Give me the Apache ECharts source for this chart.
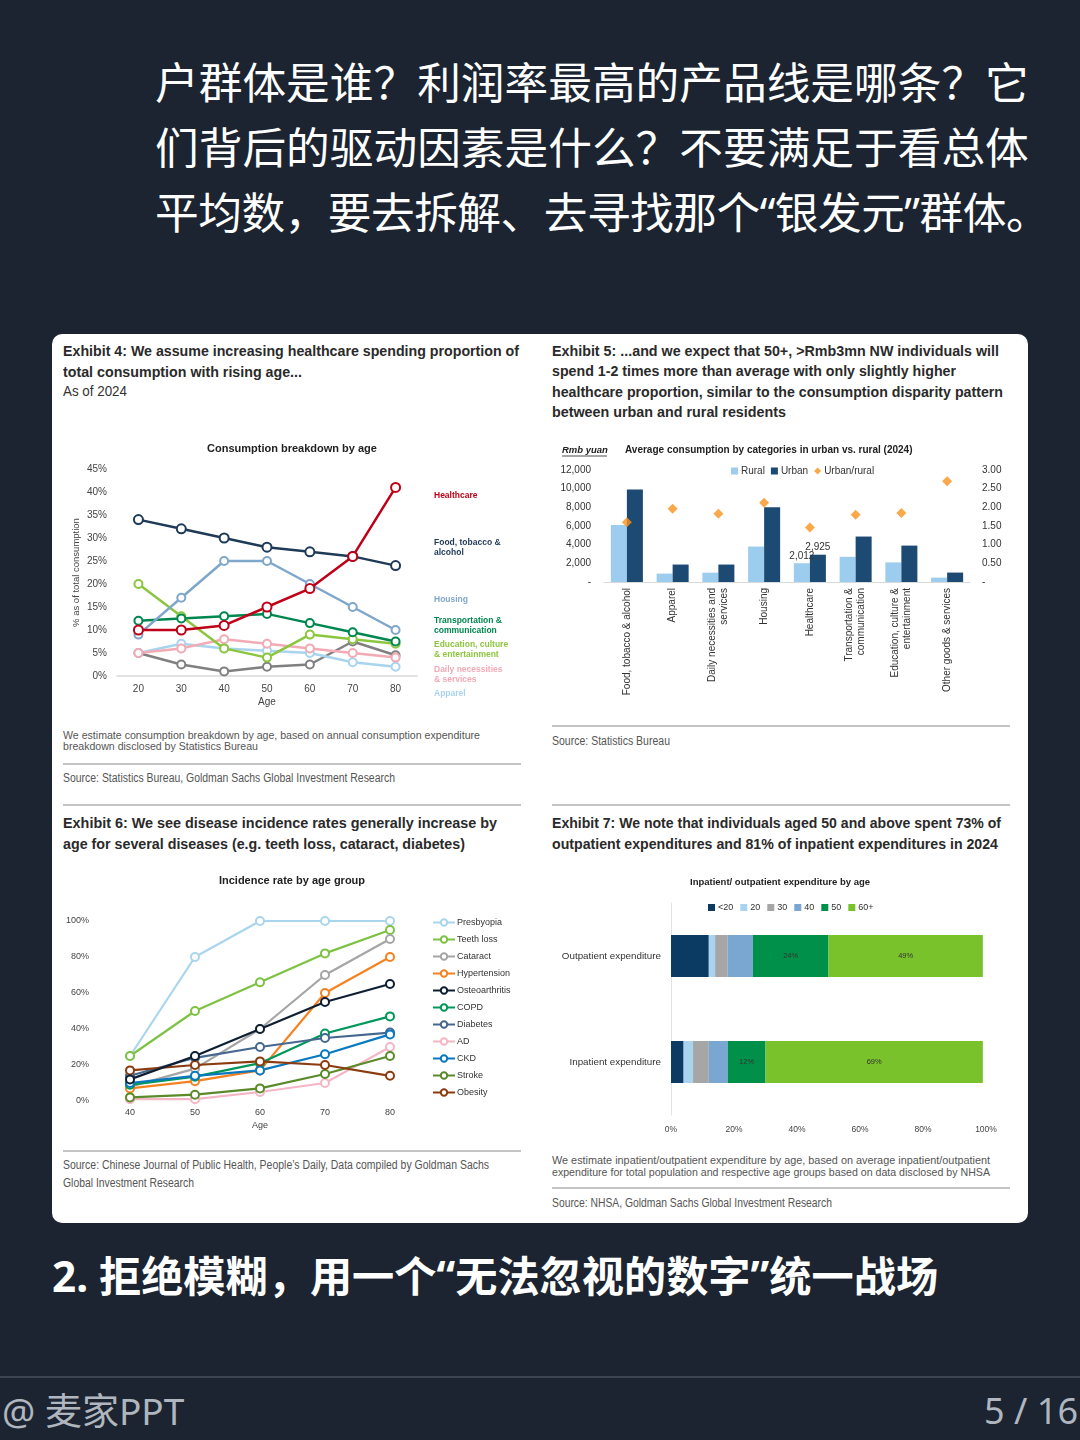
<!DOCTYPE html>
<html><head><meta charset="utf-8">
<script src="https://cdn.jsdelivr.net/npm/echarts@6/dist/echarts.min.js"></script>
<style>
html,body{margin:0;padding:0;background:#1b2430;}
#page{position:relative;width:1080px;height:1440px;background:#1b2430;overflow:hidden;font-family:"Liberation Sans",sans-serif;}
.abs{position:absolute;white-space:nowrap;}
.cn{font-family:"Noto Sans","Noto Sans CJK SC",sans-serif;color:#fff;}
.card{left:52px;top:334px;width:976px;height:889px;background:#fff;border-radius:10px;}
.hr{height:1.5px;background:#c4c4c4;}
.t{font-family:"Liberation Sans",Arial,sans-serif;font-weight:bold;font-size:15.5px;line-height:20px;color:#2a2a2a;}
.n{font-family:"Liberation Sans",Arial,sans-serif;font-size:11px;line-height:12px;color:#555;}
.s{font-family:"Liberation Sans",Arial,sans-serif;font-size:12.5px;line-height:16px;color:#555;}
#chart{position:absolute;left:0;top:0;width:1080px;height:1440px;}
</style></head>
<body>
<div id="page">
  <div class="abs cn" style="left:155px;top:49.5px;font-size:43.7px;line-height:65px;">户群体是谁？利润率最高的产品线是哪条？它</div>
  <div class="abs cn" style="left:155px;top:114.5px;font-size:43.7px;line-height:65px;">们背后的驱动因素是什么？不要满足于看总体</div>
  <div class="abs cn" style="left:155px;top:179.5px;font-size:43.7px;line-height:65px;letter-spacing:-0.5px;">平均数，要去拆解、去寻找那个“银发元”群体。</div>

  <div class="abs card"></div>

  <div class="abs fit t" data-w="456" style="left:63px;top:341px;">Exhibit 4: We assume increasing healthcare spending proportion of</div>
  <div class="abs fit t" data-w="239" style="left:63px;top:362px;">total consumption with rising age...</div>
  <div class="abs fit" data-w="64" style="left:63px;top:382px;font-size:14.5px;line-height:18px;color:#333;">As of 2024</div>

  <div class="abs fit t" data-w="447" style="left:552px;top:341px;">Exhibit 5: ...and we expect that 50+, &gt;Rmb3mn NW individuals will</div>
  <div class="abs fit t" data-w="404" style="left:552px;top:361px;">spend 1-2 times more than average with only slightly higher</div>
  <div class="abs fit t" data-w="451" style="left:552px;top:382px;">healthcare proportion, similar to the consumption disparity pattern</div>
  <div class="abs fit t" data-w="234" style="left:552px;top:402px;">between urban and rural residents</div>

  <div class="abs fit n" data-w="417" style="left:63px;top:729px;">We estimate consumption breakdown by age, based on annual consumption expenditure</div>
  <div class="abs fit n" data-w="195" style="left:63px;top:740px;">breakdown disclosed by Statistics Bureau</div>
  <div class="abs hr" style="left:63px;top:763px;width:458px;"></div>
  <div class="abs fit s" data-w="332" style="left:63px;top:770px;">Source: Statistics Bureau, Goldman Sachs Global Investment Research</div>

  <div class="abs hr" style="left:552px;top:725px;width:458px;"></div>
  <div class="abs fit s" data-w="118" style="left:552px;top:733px;">Source: Statistics Bureau</div>

  <div class="abs hr" style="left:63px;top:804px;width:458px;"></div>
  <div class="abs hr" style="left:552px;top:804px;width:458px;"></div>

  <div class="abs fit t" data-w="434" style="left:63px;top:813px;">Exhibit 6: We see disease incidence rates generally increase by</div>
  <div class="abs fit t" data-w="402" style="left:63px;top:834px;">age for several diseases (e.g. teeth loss, cataract, diabetes)</div>
  <div class="abs fit t" data-w="449" style="left:552px;top:813px;">Exhibit 7: We note that individuals aged 50 and above spent 73% of</div>
  <div class="abs fit t" data-w="446" style="left:552px;top:834px;">outpatient expenditures and 81% of inpatient expenditures in 2024</div>

  <div class="abs hr" style="left:63px;top:1150px;width:458px;"></div>
  <div class="abs fit s" data-w="426" style="left:63px;top:1157px;">Source: Chinese Journal of Public Health, People’s Daily, Data compiled by Goldman Sachs</div>
  <div class="abs fit s" data-w="131" style="left:63px;top:1175px;">Global Investment Research</div>

  <div class="abs fit n" data-w="438" style="left:552px;top:1154px;">We estimate inpatient/outpatient expenditure by age, based on average inpatient/outpatient</div>
  <div class="abs fit n" data-w="438" style="left:552px;top:1166px;">expenditure for total population and respective age groups based on data disclosed by NHSA</div>
  <div class="abs hr" style="left:552px;top:1187px;width:458px;"></div>
  <div class="abs fit s" data-w="280" style="left:552px;top:1195px;">Source: NHSA, Goldman Sachs Global Investment Research</div>

  <div class="abs cn" style="left:52px;top:1248px;font-size:42.2px;line-height:56px;font-weight:bold;">2. 拒绝模糊，用一个“无法忽视的数字”统一战场</div>

  <div class="abs" style="left:0;top:1376px;width:1080px;height:2px;background:#3a4452;"></div>
  <div class="abs cn" style="left:2px;top:1388px;font-size:37px;line-height:46px;color:#b0b6bf;">@ 麦家PPT</div>
  <div class="abs cn" style="right:2px;top:1388px;font-size:36px;line-height:46px;color:#b0b6bf;">5 / 16</div>

  <div id="chart"></div>
</div>
<script>
// ---- Exhibit 4 data ----
const ages1 = ['20','30','40','50','60','70','80'];
const food = [34,32,30,28,27,26,24];
const healthcare = [10,10,11,15,19,26,41];
const housing = [9,17,25,25,20,15,10];
const transport = [12,12.5,13,13.5,11.5,9.5,7.5];
const education = [20,13,6,4,9,8,7];
const dailyNec = [5,6,8,7,6,5,4];
const apparel = [5,7,6,5.5,5,3,2];
const otherGoods = [5,2.5,1,2,2.5,7.5,4.5];

// ---- Exhibit 5 data ----
const cats2 = ['Food, tobacco & alcohol','Apparel','Daily necessities and\nservices','Housing','Healthcare','Transportation &\ncommunication','Education, culture &\nentertainment','Other goods & services'];
const rural = [6100,900,1000,3800,2012,2700,2100,470];
const urban = [9900,1870,1870,8000,2925,4870,3900,1010];
const ratio = [1.60,1.96,1.83,2.12,1.46,1.80,1.85,2.70];

// ---- Exhibit 6 data ----
const ages3 = ['40','50','60','70','80'];
const diseases = ['Presbyopia','Teeth loss','Cataract','Hypertension','Osteoarthritis','COPD','Diabetes','AD','CKD','Stroke','Obesity'];
const presbyopia = [25,80,100,100,100];
const teethLoss = [25,50,66,82,95];
const cataract = [8,18,40,70,90];
const hypertension = [7,11,17,60,80];
const osteoarthritis = [12,25,40,55,65];
const copd = [9,13.5,21,37.5,47];
const diabetes = [14,24,30,35,38];
const adRate = [1,1,5,10,30];
const ckd = [10,14,17,26,37];
const stroke = [2,3.5,7,15,25];
const obesity = [17,20,22,20,14];

// ---- Exhibit 7 data ----
const ageGroups4 = ['<20','20','30','40','50','60+'];
const expCats = ['Outpatient expenditure','Inpatient expenditure'];
const outpatient = [12,2,4,8,24,49];
const inpatient = [4,3,5,6,12,69];

// fit condensed-looking text lines to their measured widths
document.querySelectorAll('.fit').forEach(el=>{
  const w = el.getBoundingClientRect().width;
  const t = +el.dataset.w;
  el.style.transformOrigin = '0 50%';
  el.style.transform = 'scaleX(' + (t / w) + ')';
});

const AR = '"Liberation Sans", Arial, sans-serif';
const chart = echarts.init(document.getElementById('chart'), null, {renderer:'canvas'});

function line1(name, data, color, z, size){
  return {name, type:'line', xAxisIndex:0, yAxisIndex:0, data, z,
    symbol:'emptyCircle', symbolSize:size||8, lineStyle:{color, width:2.5},
    itemStyle:{color, borderWidth:2.2}};
}
const c3colors = ['#a9d5ee','#7dc242','#a5a5a5','#f58220','#0f1f33','#00985a','#46688f','#f4b6c4','#0a78bf','#5a8a2a','#8a3c10'];
const c3data = [presbyopia,teethLoss,cataract,hypertension,osteoarthritis,copd,diabetes,adRate,ckd,stroke,obesity];
const c4colors = ['#0b3a63','#a9d4ef','#a6a6a6','#7aa6d2','#00904a','#79c22b'];

const txt = (text, x, y, font, fill, align) => ({type:'text', silent:true,
  style:{text, x, y, font, fill, textAlign:align||'left', textVerticalAlign:'middle'}});

const option = {
  backgroundColor:'transparent',
  animation:false,
  textStyle:{fontFamily:AR},
  grid:[
    {left:117, top:469, width:300, height:207},
    {left:604, top:470, width:366, height:112},
    {left:130, top:921, width:260, height:180},
    {left:671, top:903, width:315, height:212}
  ],
  xAxis:[
    {gridIndex:0, type:'category', data:ages1, boundaryGap:true,
      axisLine:{lineStyle:{color:'#d9d9d9', width:1.5}}, axisTick:{show:false},
      axisLabel:{color:'#444', fontSize:10, margin:8},
      name:'Age', nameLocation:'middle', nameGap:21, nameTextStyle:{color:'#444', fontSize:10}},
    {gridIndex:1, type:'category', data:cats2,
      axisLine:{lineStyle:{color:'#d9d9d9'}}, axisTick:{show:false},
      axisLabel:{color:'#333', fontSize:10, rotate:90, interval:0, margin:6, lineHeight:12}},
    {gridIndex:2, type:'category', data:ages3, boundaryGap:false,
      axisLine:{show:false}, axisTick:{show:false},
      axisLabel:{color:'#444', fontSize:9, margin:7},
      name:'Age', nameLocation:'middle', nameGap:20, nameTextStyle:{color:'#444', fontSize:9}},
    {gridIndex:3, type:'value', min:0, max:100, interval:20,
      axisLine:{show:false}, axisTick:{show:false}, splitLine:{show:false},
      axisLabel:{color:'#444', fontSize:8.5, margin:10, formatter:'{value}%'}}
  ],
  yAxis:[
    {gridIndex:0, type:'value', min:0, max:45, interval:5,
      axisLine:{show:false}, axisTick:{show:false}, splitLine:{show:false},
      axisLabel:{color:'#444', fontSize:10, margin:10, formatter:'{value}%'},
      name:'% as of total consumption', nameLocation:'middle', nameGap:36, nameRotate:90,
      nameTextStyle:{color:'#444', fontSize:9.5}},
    {gridIndex:1, type:'value', min:0, max:12000, interval:2000,
      axisLine:{show:false}, axisTick:{show:false}, splitLine:{show:false},
      axisLabel:{color:'#333', fontSize:10, margin:13, formatter:v=> v===0?'-':v.toLocaleString('en-US')}},
    {gridIndex:1, type:'value', position:'right', min:0, max:3, interval:0.5,
      axisLine:{show:false}, axisTick:{show:false}, splitLine:{show:false},
      axisLabel:{color:'#333', fontSize:10, margin:12, formatter:v=> v===0?'-':v.toFixed(2)}},
    {gridIndex:2, type:'value', min:0, max:100, interval:20,
      axisLine:{show:false}, axisTick:{show:false}, splitLine:{show:false},
      axisLabel:{color:'#444', fontSize:9, margin:41, formatter:'{value}%'}},
    {gridIndex:3, type:'category', data:expCats, inverse:true,
      axisLine:{lineStyle:{color:'#e3e3e3'}}, axisTick:{show:false},
      axisLabel:{color:'#333', fontSize:9.8, margin:10}}
  ],
  legend:[
    {data:['Rural','Urban',{name:'Urban/rural', icon:'diamond'}], left:726, top:461,
      itemWidth:7, itemHeight:7, itemGap:6, icon:'rect',
      textStyle:{color:'#333', fontSize:10, padding:[0,0,0,-2]}},
    {data:diseases, orient:'vertical', left:427, top:913, itemWidth:22, itemHeight:8, itemGap:8,
      textStyle:{color:'#333', fontSize:9, padding:[0,0,0,-3]}},
    {data:ageGroups4, left:703, top:898, itemWidth:7, itemHeight:7, itemGap:7, icon:'rect',
      textStyle:{color:'#333', fontSize:9, padding:[0,0,0,-2]}}
  ],
  series:[
    line1('Other', otherGoods, '#808080', 2),
    line1('Apparel', apparel, '#a9d4ee', 2),
    line1('Daily necessities & services', dailyNec, '#f2aab4', 2),
    line1('Education, culture & entertainment', education, '#8cc63f', 3),
    line1('Transportation & communication', transport, '#00874f', 3),
    line1('Housing', housing, '#7fa6cb', 3),
    line1('Food, tobacco & alcohol', food, '#1f3a57', 4, 9),
    line1('Healthcare', healthcare, '#c00018', 5, 9),

    {name:'Rural', type:'bar', xAxisIndex:1, yAxisIndex:1, barGap:'0%', barCategoryGap:'30%',
      itemStyle:{color:'#9dcdee'},
      data: rural.map((v,i)=> cats2[i]==='Healthcare' ? {value:v, label:{show:true, position:'top', distance:2, color:'#333', fontSize:10, formatter:p=>p.value.toLocaleString('en-US')}} : v)},
    {name:'Urban', type:'bar', xAxisIndex:1, yAxisIndex:1, barGap:'0%', barCategoryGap:'30%',
      itemStyle:{color:'#1d4a73'},
      data: urban.map((v,i)=> cats2[i]==='Healthcare' ? {value:v, label:{show:true, position:'top', distance:2, color:'#333', fontSize:10, formatter:p=>p.value.toLocaleString('en-US')}} : v)},
    {name:'Urban/rural', type:'scatter', xAxisIndex:1, yAxisIndex:2, symbol:'diamond', symbolSize:10,
      itemStyle:{color:'#f7941d'}, data:ratio, z:5},

    ...diseases.map((d,i)=>({name:d, type:'line', xAxisIndex:2, yAxisIndex:3, data:c3data[i],
      symbol:'emptyCircle', symbolSize:8, lineStyle:{color:c3colors[i], width:2.2},
      itemStyle:{color:c3colors[i], borderWidth:2}, z: 2 + (i===4?2:0)})),

    ...ageGroups4.map((g,i)=>({name:g, type:'bar', stack:'exp', xAxisIndex:3, yAxisIndex:4, barWidth:42,
      itemStyle:{color:c4colors[i]}, data:[outpatient[i], inpatient[i]],
      label:{show: i>=4, position:'inside', color:'#333', fontSize:7.5, formatter:'{c}%'}}))
  ],
  graphic:[
    txt('Consumption breakdown by age', 292, 449, 'bold 11px '+AR, '#222', 'center'),
    txt('Healthcare', 434, 496, 'bold 8.5px '+AR, '#c00018'),
    txt('Food, tobacco &', 434, 543, 'bold 8.5px '+AR, '#1f3a57'),
    txt('alcohol', 434, 553, 'bold 8.5px '+AR, '#1f3a57'),
    txt('Housing', 434, 600, 'bold 8.5px '+AR, '#7fa6cb'),
    txt('Transportation &', 434, 621, 'bold 8.5px '+AR, '#00874f'),
    txt('communication', 434, 631, 'bold 8.5px '+AR, '#00874f'),
    txt('Education, culture', 434, 645, 'bold 8.5px '+AR, '#8cc63f'),
    txt('& entertainment', 434, 655, 'bold 8.5px '+AR, '#8cc63f'),
    txt('Daily necessities', 434, 670, 'bold 8.5px '+AR, '#f2aab4'),
    txt('& services', 434, 680, 'bold 8.5px '+AR, '#f2aab4'),
    txt('Apparel', 434, 694, 'bold 8.5px '+AR, '#a9d4ee'),

    txt('Rmb yuan', 562, 450, 'italic bold 9.5px '+AR, '#222'),
    {type:'line', silent:true, shape:{x1:562, y1:456, x2:607, y2:456}, style:{stroke:'#222', lineWidth:0.8}},
    txt('Average consumption by categories in urban vs. rural (2024)', 625, 450, 'bold 10px '+AR, '#222'),

    txt('Incidence rate by age group', 292, 881, 'bold 11px '+AR, '#222', 'center'),
    txt('Inpatient/ outpatient expenditure by age', 780, 882, 'bold 9.5px '+AR, '#222', 'center')
  ]
};
chart.setOption(option);
</script>
</body></html>
